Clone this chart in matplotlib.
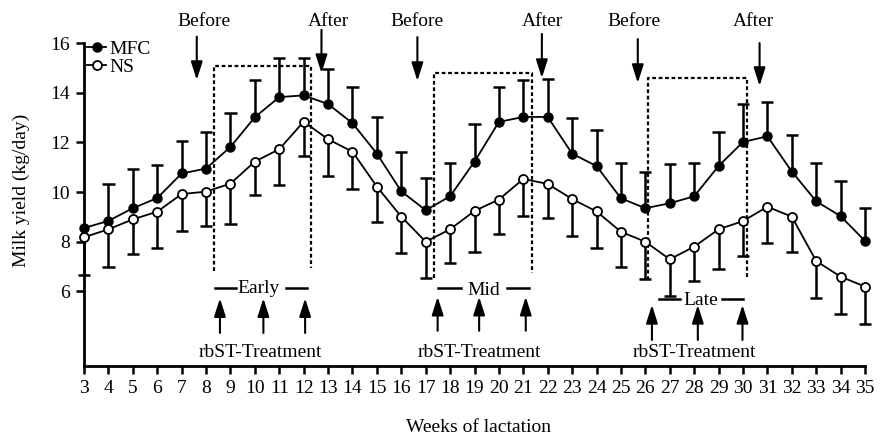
import numpy as np
import matplotlib
matplotlib.use("Agg")
import matplotlib.pyplot as plt

plt.rcParams['font.family'] = ['Liberation Serif', 'DejaVu Serif']
FS = 14
plt.rcParams['font.size'] = FS

# ---- data ----
weeks = np.arange(3, 36)
mfc = np.array([8.55, 8.84, 9.35, 9.76, 10.75, 10.95, 11.82, 13.02, 13.83, 13.9,
                13.55, 12.78, 11.55, 10.03, 9.27, 9.83, 11.23, 12.83, 13.03, 13.03,
                11.55, 11.05, 9.75, 9.35, 9.55, 9.83, 11.05, 12.02, 12.25, 10.83,
                9.63, 9.03, 8.03])
mfc_upper = np.array([np.nan, 10.31, 10.92, 11.09, 12.07, 12.41, 13.18, 14.51, 15.42, 15.42,
                      14.96, 14.25, 13.02, 11.63, 10.58, 11.19, 12.73, 14.23, 14.52, 14.56,
                      13.0, 12.5, 11.16, 10.8, 11.12, 11.16, 12.44, 13.54, 13.62, 12.3,
                      11.16, 10.45, 9.35])
ns = np.array([8.18, 8.5, 8.9, 9.21, 9.92, 10.02, 10.34, 11.23, 11.73, 12.84,
               12.13, 11.63, 10.22, 9.01, 8.0, 8.5, 9.24, 9.7, 10.53, 10.33,
               9.72, 9.22, 8.4, 8.0, 7.29, 7.8, 8.5, 8.83, 9.41, 9.01,
               7.22, 6.59, 6.19])
ns_lower = np.array([6.66, 6.99, 7.5, 7.76, 8.43, 8.65, 8.71, 9.87, 10.29, 11.47,
                     10.64, 10.12, 8.78, 7.56, 6.52, 7.15, 7.6, 8.3, 9.05, 8.94,
                     8.23, 7.73, 6.99, 6.5, 5.82, 6.42, 6.9, 7.42, 7.94, 7.6,
                     5.72, 5.1, 4.68])
xticks = list(range(3, 36))
yticks = [6, 8, 10, 12, 14, 16]
series_labels = ["MFC", "NS"]
phases = ["Early", "Mid", "Late"]

# ---- figure ----
W, H = 880, 437
fig = plt.figure(figsize=(W / 100, H / 100), dpi=100)
ax = fig.add_axes([84 / W, 1 - 365.7 / H, 781 / W, (365.7 - 43.3) / H])
ax.set_xlim(3, 35)
ax.set_ylim(3, 16)

for s in ['top', 'right']:
    ax.spines[s].set_visible(False)
for s in ['left', 'bottom']:
    ax.spines[s].set_linewidth(2.0)
ax.spines['left'].set_bounds(3, 16)
ax.set_xticks(xticks)
ax.set_yticks(yticks)
ax.tick_params(axis='both', direction='out', length=6, width=1.8, pad=4.2,
               labelsize=FS)
ax.tick_params(axis='x', pad=4.5)

# error bars
cap = 0.25
ax.vlines(weeks, mfc, mfc_upper, color='k', lw=1.8, zorder=2, clip_on=False)
ax.hlines(mfc_upper, weeks - cap, weeks + cap, color='k', lw=1.8, zorder=2, clip_on=False)
ax.vlines(weeks, ns_lower, ns, color='k', lw=1.8, zorder=2, clip_on=False)
ax.hlines(ns_lower, weeks - cap, weeks + cap, color='k', lw=1.8, zorder=2, clip_on=False)

ax.plot(weeks, mfc, '-o', color='k', mfc='k', mec='k', ms=6.5, lw=1.3,
        label=series_labels[0], zorder=4, clip_on=False)
ax.plot(weeks, ns, '-o', color='k', mfc='white', mec='k', mew=1.3, ms=6.5, lw=1.3,
        label=series_labels[1], zorder=4, clip_on=False)

leg = ax.legend(loc='upper left', bbox_to_anchor=(87 / W, 1 - 40 / H),
                bbox_transform=fig.transFigure, frameon=False, borderpad=0,
                borderaxespad=0, handlelength=1.0, handletextpad=0.15,
                labelspacing=0.05, fontsize=FS)

# dotted boxes
dash = (0, (1.7, 1.2))
boxes = [(8.32, 12.29, 15.1, 6.82, 6.95), (17.36, 21.37, 14.79, 6.54, 6.74),
         (26.1, 30.18, 14.61, 6.46, 6.54)]
for x0, x1, yt, yb0, yb1 in boxes:
    ax.plot([x0, x0, x1, x1], [yb0, yt, yt, yb1], color='k', lw=1.6,
            linestyle=dash, zorder=3, clip_on=False)

# before / after arrows
down = [(7.62, 16.27, 14.52), (12.73, 16.54, 14.80), (16.66, 16.25, 14.48),
        (21.76, 16.38, 14.60), (25.69, 16.17, 14.40), (30.68, 16.01, 14.28)]
astyle = dict(arrowstyle='-|>,head_length=1.1,head_width=0.35', lw=1.5,
              color='k', shrinkA=0, shrinkB=0, mutation_scale=10)
for x, yt, yb in down:
    ax.annotate('', xy=(x, yb), xytext=(x, yt), arrowprops=astyle,
                annotation_clip=False)
labels_top = [("Before", 7.92), ("After", 13.0), ("Before", 16.63),
              ("After", 21.77), ("Before", 25.54), ("After", 30.41)]
for t, x in labels_top:
    ax.text(x, 16.68, t, ha='center', va='baseline', fontsize=FS, clip_on=False)

# phase labels with dashes
phase_info = [(10.14, 5.94, 6.14, (8.37, 9.23), (11.27, 12.15)),
              (19.36, 5.85, 6.12, (17.52, 18.45), (20.32, 21.25)),
              (28.27, 5.45, 5.69, (26.54, 27.43), (29.13, 30.02))]
for name, (xc, yb, yl, s1, s2) in zip(phases, phase_info):
    ax.text(xc, yb, name, ha='center', va='baseline', fontsize=FS)
    ax.plot(s1, [yl, yl], color='k', lw=1.8)
    ax.plot(s2, [yl, yl], color='k', lw=1.8)

# rbST treatment arrows
up = [((8.57, 10.35, 12.06), 4.32, 5.72), ((17.49, 19.19, 21.10), 4.41, 5.78),
      ((26.27, 28.15, 29.98), 4.04, 5.45)]
for xs, yb, yt in up:
    for x in xs:
        ax.annotate('', xy=(x, yt), xytext=(x, yb), arrowprops=astyle)
for x in (10.21, 19.2, 28.01):
    ax.text(x, 3.36, "rbST-Treatment", ha='center', va='baseline', fontsize=FS)

fig.text(21 / W, 1 - 190 / H, "Milk yield (kg/day)", rotation=90, ha='center',
         va='center', fontsize=FS)
fig.text(478 / W, 1 - 427 / H, "Weeks of lactation", ha='center', va='center',
         fontsize=FS)

fig.savefig("out.png", dpi=100)
